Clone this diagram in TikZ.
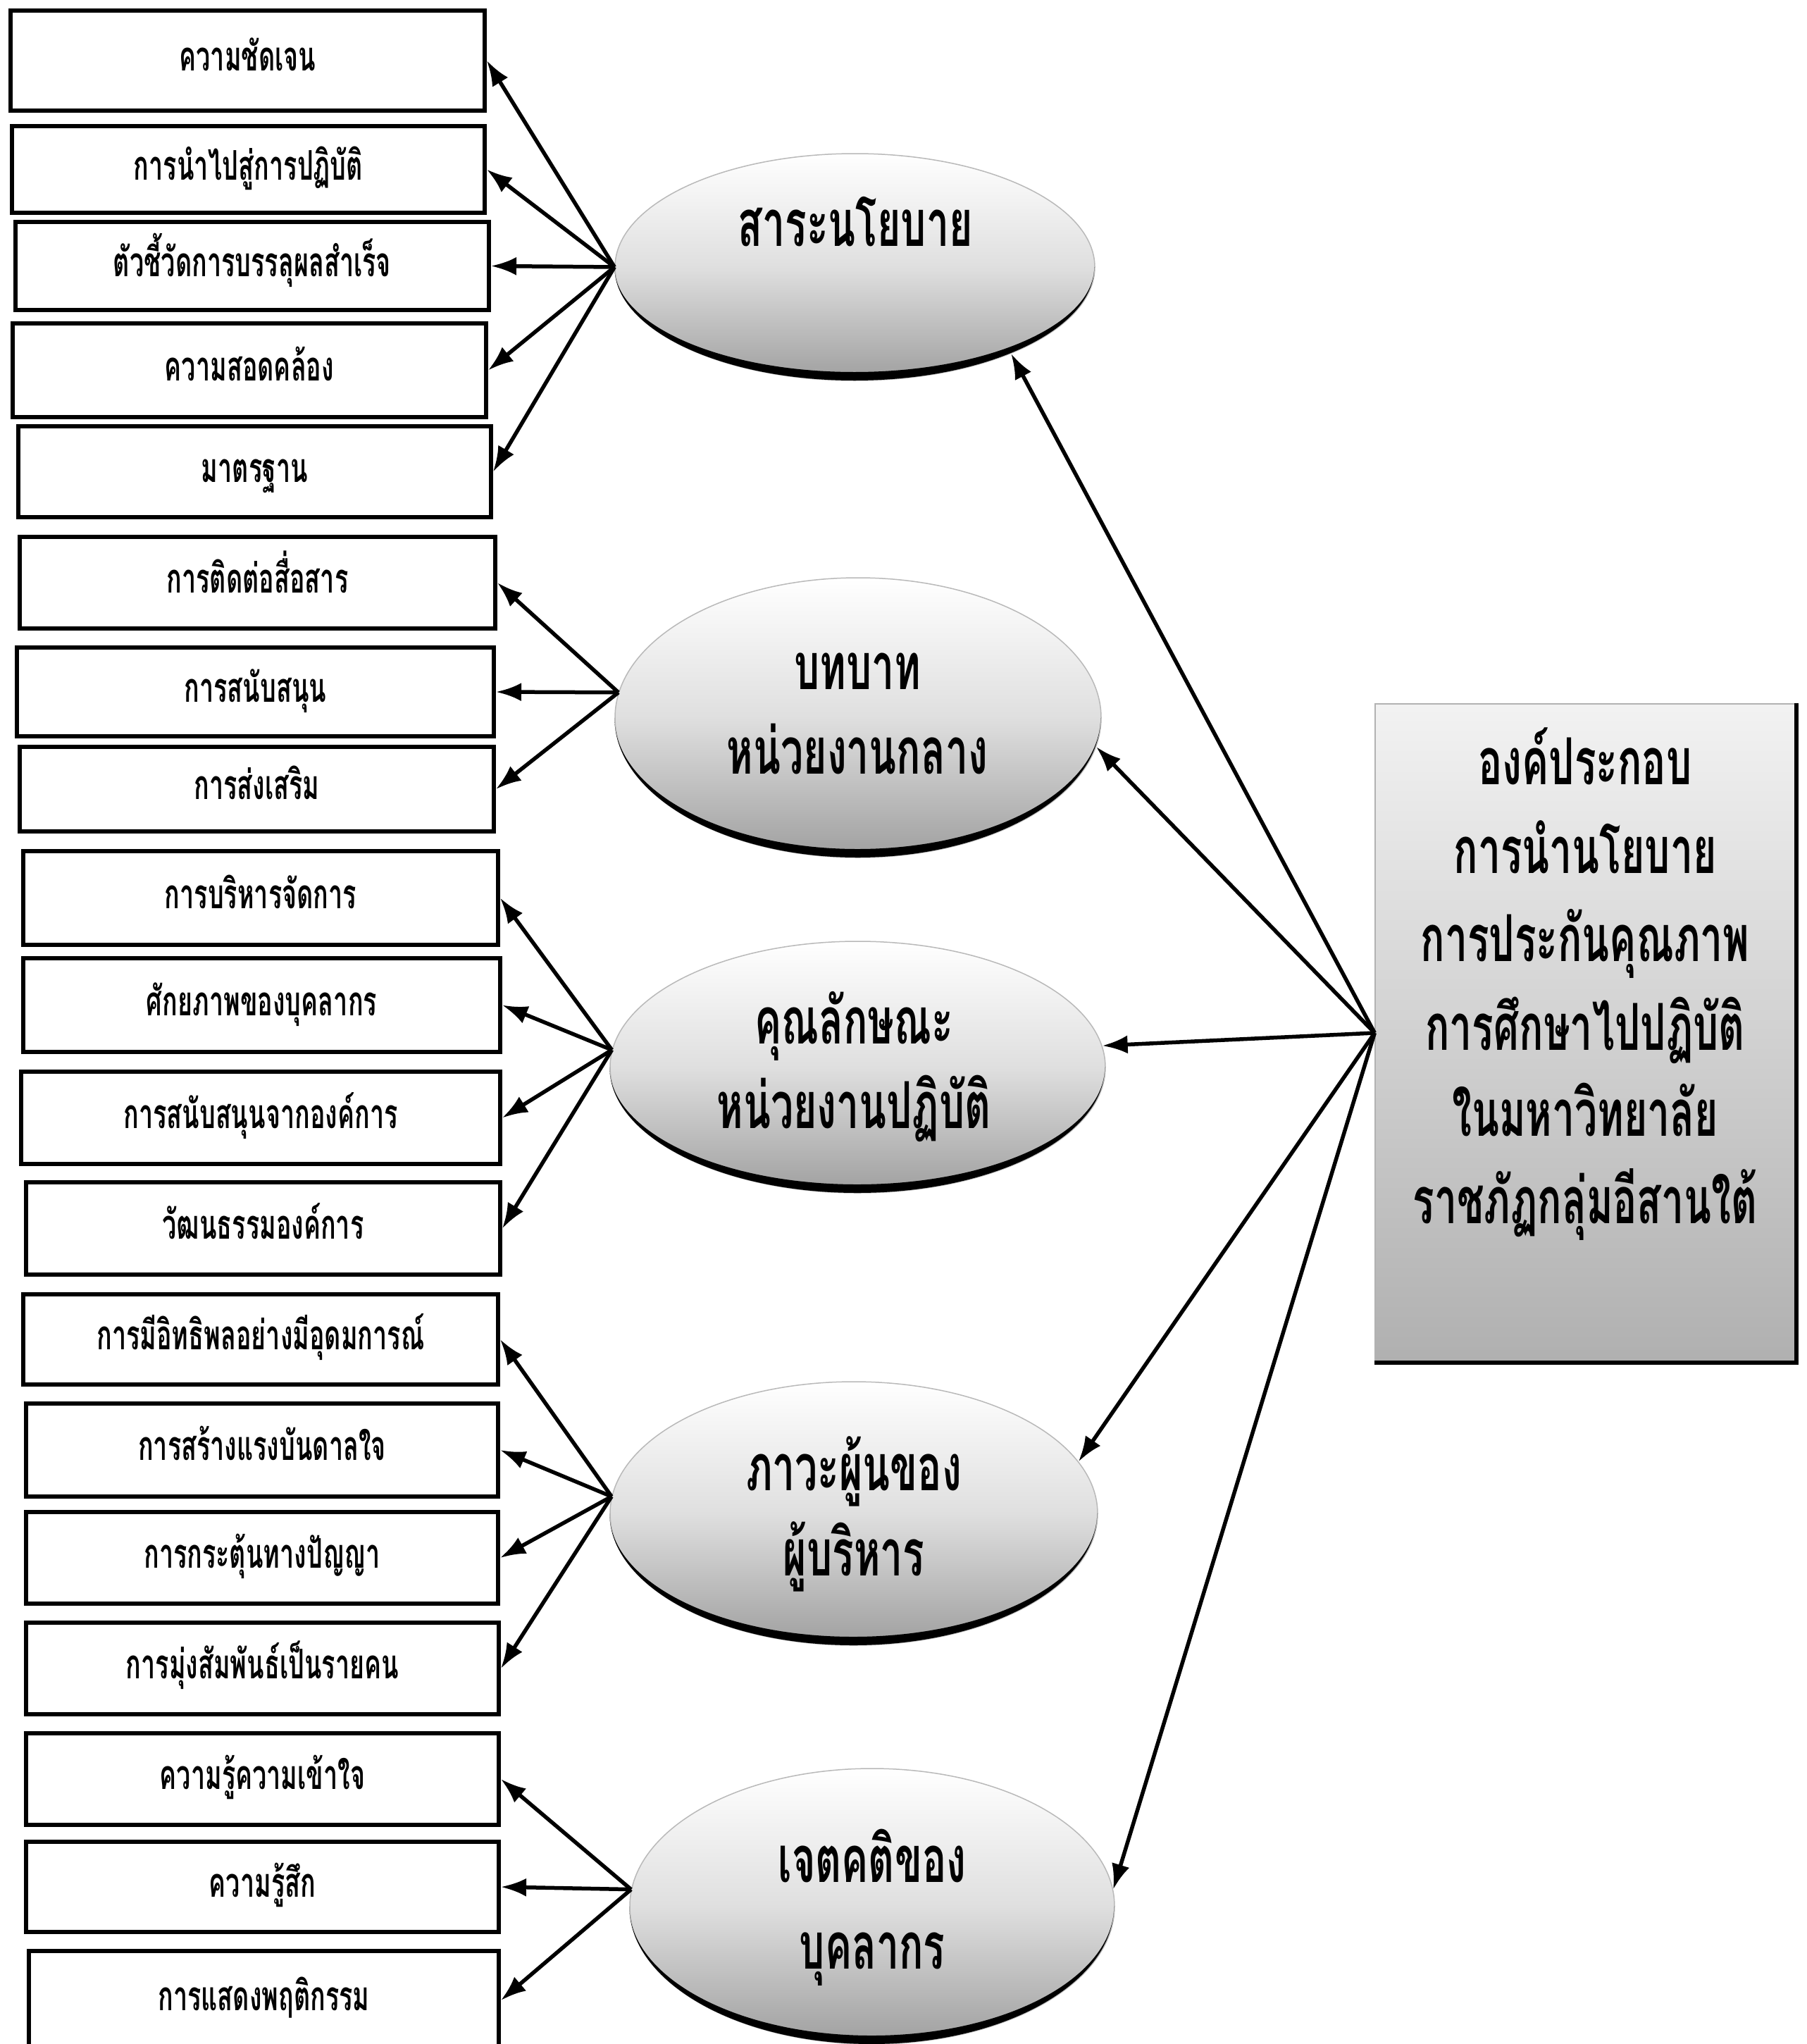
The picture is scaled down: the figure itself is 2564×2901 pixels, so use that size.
\documentclass[tikz,border=0pt]{standalone}
\usepackage{fontspec}
\newfontfamily\thaifont[Script=Thai,FakeStretch=0.62]{Loma}
\usetikzlibrary{arrows.meta,shapes.geometric,shadings}
\tikzset{
  itembox/.style={draw=black, line width=6pt, fill=white, rectangle, inner sep=0pt,
    font=\thaifont\bfseries\fontsize{58}{70}\selectfont, text height=29pt, text depth=0pt},
  bubble/.style={ellipse, inner sep=0pt, draw=gray!55, line width=1.5pt,
    top color=white, bottom color=gray!75, middle color=gray!25},
  bubbletext/.style={inner sep=0pt, font=\thaifont\bfseries\fontsize{92}{110}\selectfont,
    text height=46pt, text depth=0pt},
  corebox/.style={rectangle, inner sep=0pt, draw=gray!60, line width=1.5pt,
    top color=gray!10, bottom color=gray!62},
  rim/.style={fill=black},
  arr/.style={line width=5.5pt, -{Latex[length=36pt,width=26pt]}},
}
\begin{document}
\begin{tikzpicture}[x=1pt,y=-1pt]
\path[use as bounding box, fill=white] (0,0) rectangle (2564,2901);

% left-hand item boxes
\node[itembox, minimum width=673pt, minimum height=142pt] (b1)  at (351.5,86)   {ความชัดเจน};
\node[itembox, minimum width=671pt, minimum height=123pt] (b2)  at (352.5,240.5) {การนำไปสู่การปฏิบัติ};
\node[itembox, minimum width=672pt, minimum height=125pt] (b3)  at (358,377.5)  {ตัวชี้วัดการบรรลุผลสำเร็จ};
\node[itembox, minimum width=672pt, minimum height=133pt] (b4)  at (354,525.5)  {ความสอดคล้อง};
\node[itembox, minimum width=671pt, minimum height=129pt] (b5)  at (361.5,669.5) {มาตรฐาน};
\node[itembox, minimum width=675pt, minimum height=130pt] (b6)  at (365.5,827)  {การติดต่อสื่อสาร};
\node[itembox, minimum width=677pt, minimum height=126pt] (b7)  at (362.5,982)  {การสนับสนุน};
\node[itembox, minimum width=673pt, minimum height=120pt] (b8)  at (364.5,1120) {การส่งเสริม};
\node[itembox, minimum width=674pt, minimum height=133pt] (b9)  at (370,1274.5) {การบริหารจัดการ};
\node[itembox, minimum width=677pt, minimum height=133pt] (b10) at (371.5,1426.5) {ศักยภาพของบุคลากร};
\node[itembox, minimum width=680pt, minimum height=131pt] (b11) at (370,1586.5) {การสนับสนุนจากองค์การ};
\node[itembox, minimum width=673pt, minimum height=131pt] (b12) at (373.5,1743.5) {วัฒนธรรมองค์การ};
\node[itembox, minimum width=674pt, minimum height=128pt] (b13) at (370,1901)   {การมีอิทธิพลอย่างมีอุดมการณ์};
\node[itembox, minimum width=670pt, minimum height=132pt] (b14) at (372,2058)   {การสร้างแรงบันดาลใจ};
\node[itembox, minimum width=670pt, minimum height=130pt] (b15) at (372,2211)   {การกระตุ้นทางปัญญา};
\node[itembox, minimum width=671pt, minimum height=130pt] (b16) at (372.5,2368) {การมุ่งสัมพันธ์เป็นรายคน};
\node[itembox, minimum width=671pt, minimum height=130pt] (b17) at (372.5,2525) {ความรู้ความเข้าใจ};
\node[itembox, minimum width=671pt, minimum height=128pt] (b18) at (372.5,2678) {ความรู้สึก};
\node[itembox, minimum width=667pt, minimum height=140pt] (b19) at (374.5,2839) {การแสดงพฤติกรรม};

% shaded ellipses
\node[bubble, minimum width=681pt, minimum height=322pt] (e1) at (1213.5,379) {};
\node[bubble, minimum width=690pt, minimum height=397pt] (e2) at (1218,1018.5) {};
\node[bubble, minimum width=703pt, minimum height=357pt] (e3) at (1217.5,1514.5) {};
\node[bubble, minimum width=692pt, minimum height=374pt] (e4) at (1212,2148) {};
\node[bubble, minimum width=688pt, minimum height=391pt] (e5) at (1238,2705.5) {};

% dark lower rims of the ellipses
\fill[rim] (e1.west) arc[start angle=180,end angle=0,x radius=340.5,y radius=161]
  arc[start angle=0,end angle=180,x radius=340.5,y radius=149];
\fill[rim] (e2.west) arc[start angle=180,end angle=0,x radius=345,y radius=198.5]
  arc[start angle=0,end angle=180,x radius=345,y radius=186.5];
\fill[rim] (e3.west) arc[start angle=180,end angle=0,x radius=351.5,y radius=178.5]
  arc[start angle=0,end angle=180,x radius=351.5,y radius=166.5];
\fill[rim] (e4.west) arc[start angle=180,end angle=0,x radius=346,y radius=187]
  arc[start angle=0,end angle=180,x radius=346,y radius=175];
\fill[rim] (e5.west) arc[start angle=180,end angle=0,x radius=344,y radius=195.5]
  arc[start angle=0,end angle=180,x radius=344,y radius=183.5];

% ellipse labels
\node[bubbletext] (t1)  at (1214,326)  {สาระนโยบาย};
\node[bubbletext] (t2a) at (1217,955)  {บทบาท};
\node[bubbletext] (t2b) at (1217,1075) {หน่วยงานกลาง};
\node[bubbletext] (t3a) at (1212,1458) {คุณลักษณะ};
\node[bubbletext] (t3b) at (1212,1578) {หน่วยงานปฏิบัติ};
\node[bubbletext] (t4a) at (1212,2092) {ภาวะผู้นของ};
\node[bubbletext] (t4b) at (1212,2213) {ผู้บริหาร};
\node[bubbletext] (t5a) at (1238,2648) {เจตคติของ};
\node[bubbletext] (t5b) at (1238,2771) {บุคลากร};

% core box on the right
\node[corebox, minimum width=597pt, minimum height=934pt] (rb) at (2250.5,1466) {};
\draw[line width=6pt] (rb.north east) -- (rb.south east) -- (rb.south west);
\node[bubbletext] (r1) at (2250,1090) {องค์ประกอบ};
\node[bubbletext] (r2) at (2250,1216) {การนำนโยบาย};
\node[bubbletext] (r3) at (2250,1341) {การประกันคุณภาพ};
\node[bubbletext] (r4) at (2250,1467) {การศึกษาไปปฏิบัติ};
\node[bubbletext] (r5) at (2250,1589) {ในมหาวิทยาลัย};
\node[bubbletext] (r6) at (2250,1713) {ราชภัฏกลุ่มอีสานใต้};

% connectors from the ellipses to their items
\foreach \b in {b1,b2,b3,b4,b5} \draw[arr] (e1.west) -- (\b.east);
\foreach \b in {b6,b7,b8} \draw[arr] (e2.174) -- (\b.east);
\foreach \b in {b9,b10,b11,b12} \draw[arr] (e3.176) -- (\b.east);
\foreach \b in {b13,b14,b15,b16} \draw[arr] (e4.176) -- (\b.east);
\foreach \b in {b17,b18,b19} \draw[arr] (e5.176) -- (\b.east);

% connectors from the core box to the ellipses
\draw[arr] (rb.west) -- (e1.-29);
\draw[arr] (rb.west) -- (e2.-7);
\draw[arr] (rb.west) -- (e3.5);
\draw[arr] (rb.west) -- (e4.13);
\draw[arr] (rb.west) -- (e5.4);
\end{tikzpicture}
\end{document}
